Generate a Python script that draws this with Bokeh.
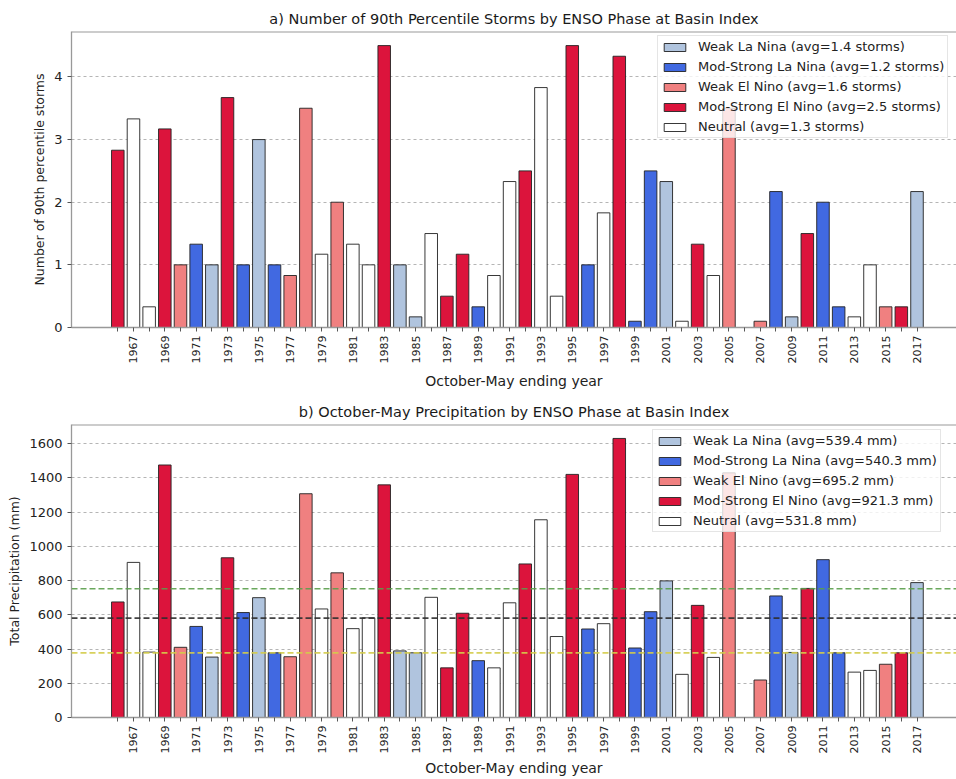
import numpy as np
from bokeh.plotting import figure
from bokeh.models import ColumnDataSource, FixedTicker, Span, Legend, LegendItem, Range1d
from bokeh.layouts import column
from bokeh.embed import file_html
from bokeh.resources import INLINE

# ---------------- data ----------------
years = [1966, 1967, 1968, 1969, 1970, 1971, 1972, 1973, 1974, 1975,
         1976, 1977, 1978, 1979, 1980, 1981, 1982, 1983, 1984, 1985,
         1986, 1987, 1988, 1989, 1990, 1991, 1992, 1993, 1994, 1995,
         1996, 1997, 1998, 1999, 2000, 2001, 2002, 2003, 2004, 2005,
         2007, 2008, 2009, 2010, 2011, 2012, 2013, 2014, 2015, 2016, 2017]

phases = ["Mod-Strong El Nino", "Neutral", "Neutral", "Mod-Strong El Nino", "Weak El Nino",
          "Mod-Strong La Nina", "Weak La Nina", "Mod-Strong El Nino", "Mod-Strong La Nina", "Weak La Nina",
          "Mod-Strong La Nina", "Weak El Nino", "Weak El Nino", "Neutral", "Weak El Nino",
          "Neutral", "Neutral", "Mod-Strong El Nino", "Weak La Nina", "Weak La Nina",
          "Neutral", "Mod-Strong El Nino", "Mod-Strong El Nino", "Mod-Strong La Nina", "Neutral",
          "Neutral", "Mod-Strong El Nino", "Neutral", "Neutral", "Mod-Strong El Nino",
          "Mod-Strong La Nina", "Neutral", "Mod-Strong El Nino", "Mod-Strong La Nina", "Mod-Strong La Nina",
          "Weak La Nina", "Neutral", "Mod-Strong El Nino", "Neutral", "Weak El Nino",
          "Weak El Nino", "Mod-Strong La Nina", "Weak La Nina", "Mod-Strong El Nino", "Mod-Strong La Nina",
          "Mod-Strong La Nina", "Neutral", "Neutral", "Weak El Nino", "Mod-Strong El Nino", "Weak La Nina"]

storms = [2.83, 3.33, 0.33, 3.17, 1.0, 1.33, 1.0, 3.67, 1.0, 3.0,
          1.0, 0.83, 3.5, 1.17, 2.0, 1.33, 1.0, 4.5, 1.0, 0.17,
          1.5, 0.5, 1.17, 0.33, 0.83, 2.33, 2.5, 3.83, 0.5, 4.5,
          1.0, 1.83, 4.33, 0.1, 2.5, 2.33, 0.1, 1.33, 0.83, 3.5,
          0.1, 2.17, 0.17, 1.5, 2.0, 0.33, 0.17, 1.0, 0.33, 0.33, 2.17]

precip = [675, 906, 382, 1475, 410, 532, 353, 933, 613, 700,
          378, 355, 1307, 634, 845, 519, 582, 1359, 389, 378,
          702, 290, 609, 332, 290, 670, 897, 1155, 473, 1420,
          517, 548, 1630, 406, 618, 798, 252, 655, 351, 1429,
          219, 710, 380, 754, 922, 378, 265, 275, 311, 378, 788]

tick_years = list(range(1966, 2018))
labeled_years = list(range(1967, 2018, 2))

phase_names = ["Weak La Nina", "Mod-Strong La Nina", "Weak El Nino", "Mod-Strong El Nino", "Neutral"]
phase_colors = ["#b0c4de", "#4169e1", "#f08080", "#dc143c", "#ffffff"]
storm_avgs = [1.4, 1.2, 1.6, 2.5, 1.3]
precip_avgs = [539.4, 540.3, 695.2, 921.3, 531.8]

storm_yticks = [0, 1, 2, 3, 4]
precip_yticks = [0, 200, 400, 600, 800, 1000, 1200, 1400, 1600]

precip_ref_lines = [378, 580, 752]
ref_line_colors = ["#d4cc4a", "#2e2e2e", "#5a9e4b"]

FONT = "DejaVu Sans"
XLABEL = "October-May ending year"


def make_panel(values, title, ylabel, yend, yticks, legend_labels, legend_loc,
               height, border_top, border_bottom, xlabel_standoff):
    p = figure(width=956, height=height, output_backend="svg", toolbar_location=None,
               x_range=Range1d(1963.045, 2019.52), y_range=Range1d(0, yend),
               min_border_left=71, min_border_right=0,
               min_border_top=border_top, min_border_bottom=border_bottom)
    p.title.text = title
    p.title.text_font = FONT
    p.title.text_font_size = "14.5px"
    p.title.text_font_style = "normal"
    p.title.text_color = "#1a1a1a"
    p.title.align = "center"
    p.title.standoff = 9
    p.outline_line_color = None
    p.background_fill_color = "white"
    p.border_fill_color = "white"

    items = []
    for name, color, lab in zip(phase_names, phase_colors, legend_labels):
        xs = [y for y, ph in zip(years, phases) if ph == name]
        vs = [v for v, ph in zip(values, phases) if ph == name]
        src = ColumnDataSource(dict(x=xs, top=vs))
        r = p.vbar(x="x", top="top", width=0.8, source=src, fill_color=color,
                   line_color="#222222", line_width=1, line_alpha=0.9)
        items.append(LegendItem(label=lab, renderers=[r]))

    # axes
    p.xaxis.ticker = FixedTicker(ticks=tick_years)
    p.xaxis.major_label_overrides = {y: (str(y) if y in labeled_years else "") for y in tick_years}
    p.xaxis.major_label_orientation = np.pi / 2
    p.xaxis.major_label_text_font_size = "11px"
    p.xaxis.major_label_standoff = 4
    p.xaxis.axis_label = XLABEL
    p.xaxis.axis_label_text_font_size = "14px"
    p.xaxis.axis_label_standoff = xlabel_standoff

    p.yaxis.ticker = FixedTicker(ticks=yticks)
    p.yaxis.major_label_text_font_size = "13px"
    p.yaxis.major_label_standoff = 5
    p.yaxis.axis_label = ylabel
    p.yaxis.axis_label_standoff = 4
    p.yaxis.axis_label_text_font_size = "12.5px"

    for ax in (p.xaxis, p.yaxis):
        ax.major_label_text_font = FONT
        ax.major_label_text_color = "#222222"
        ax.axis_label_text_font = FONT
        ax.axis_label_text_font_style = "normal"
        ax.axis_label_text_color = "#222222"
        ax.axis_line_color = "#999999"
        ax.axis_line_width = 1.3
        ax.major_tick_line_color = "#555555"
        ax.major_tick_in = 0
        ax.major_tick_out = 4
        ax.minor_tick_line_color = None

    p.xgrid.visible = False
    p.ygrid.ticker = FixedTicker(ticks=yticks[1:])
    p.ygrid.grid_line_color = "#b5b5b5"
    p.ygrid.grid_line_dash = "3 3"
    p.ygrid.grid_line_width = 1

    p.add_layout(Span(location=yend, dimension="width", line_color="#999999", line_width=2))

    legend = Legend(items=items, location=legend_loc, label_text_font=FONT,
                    label_text_font_size="13px", label_text_color="#222222",
                    glyph_width=27, glyph_height=10, label_height=14, label_standoff=10,
                    spacing=5, padding=3, margin=0,
                    border_line_color="#cccccc", background_fill_alpha=0.8)
    p.add_layout(legend)
    return p


storm_labels = [f"{n} (avg={a:.1f} storms)" for n, a in zip(phase_names, storm_avgs)]
precip_labels = [f"{n} (avg={a:.1f} mm)" for n, a in zip(phase_names, precip_avgs)]

p1 = make_panel(storms, "a) Number of 90th Percentile Storms by ENSO Phase at Basin Index",
                "Number of 90th percentile storms", 4.725, storm_yticks, storm_labels,
                (586, 189), 392, 31, 62, 7)

p2 = make_panel(precip, "b) October-May Precipitation by ENSO Phase at Basin Index",
                "Total Precipitation (mm)", 1711.5, precip_yticks, precip_labels,
                (581, 185), 387, 32, 59, 4)

for v, c in zip(precip_ref_lines, ref_line_colors):
    p2.add_layout(Span(location=v, dimension="width", line_color=c, line_dash="6 3",
                       line_width=1.7, line_alpha=0.9))

layout = column(p1, p2, spacing=0)
open("out.html", "w").write(file_html(layout, INLINE))
